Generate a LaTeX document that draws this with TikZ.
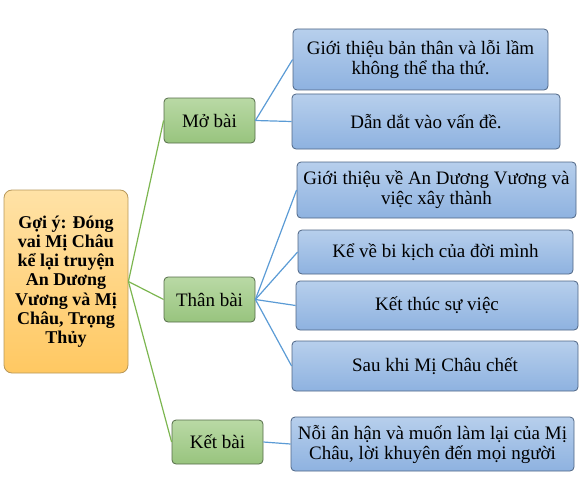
\documentclass[tikz,border=0pt]{standalone}
\usepackage{fontspec}
\setmainfont{Liberation Serif}
\definecolor{gtop}{HTML}{B9D9A5}
\definecolor{gbot}{HTML}{98C47E}
\definecolor{gline}{HTML}{546B48}
\definecolor{btop}{HTML}{B7CFEC}
\definecolor{bbot}{HTML}{8EB2E0}
\definecolor{bline}{HTML}{4E6584}
\definecolor{otop}{HTML}{FFE2A6}
\definecolor{obot}{HTML}{FFC862}
\definecolor{oline}{HTML}{B8985A}
\definecolor{greenconn}{HTML}{7CB650}
\definecolor{blueconn}{HTML}{5B9BD5}
\tikzset{
  rootbox/.style={draw=oline, line width=0.8pt, rounded corners=8pt, top color=otop, bottom color=obot, align=center, inner sep=1pt, font=\fontsize{18}{19.2}\selectfont\bfseries},
  secbox/.style={draw=gline, line width=0.8pt, rounded corners=4pt, top color=gtop, bottom color=gbot, align=center, inner sep=0pt, font=\fontsize{19}{20}\selectfont},
  leafbox/.style={draw=bline, line width=0.8pt, rounded corners=4pt, top color=btop, bottom color=bbot, align=center, inner sep=0pt, font=\fontsize{19}{20}\selectfont},
  gconn/.style={draw=greenconn, line width=1.2pt},
  bconn/.style={draw=blueconn, line width=1.2pt}
}
\begin{document}
\begin{tikzpicture}[x=1pt,y=-1pt]
\useasboundingbox (0,0) rectangle (585,484);
\node[rootbox, minimum width=124pt, minimum height=183pt] (root) at (66,281.5) {Gợi ý: Đóng\\vai Mị Châu\\kể lại truyện\\An Dương\\Vương và Mị\\Châu, Trọng\\Thủy};
\node[secbox, minimum width=91pt, minimum height=45pt] (mo) at (209.5,120.5) {Mở bài};
\node[secbox, minimum width=91pt, minimum height=45pt] (than) at (209.5,299.5) {Thân bài};
\node[secbox, minimum width=91pt, minimum height=44pt] (ket) at (217.5,442) {Kết bài};
\node[leafbox, minimum width=255pt, minimum height=61pt] (l1) at (420.5,59.5) {Giới thiệu bản thân và lỗi lầm\\không thể tha thứ.};
\node[leafbox, minimum width=268pt, minimum height=55pt] (l2) at (426,121.5) {Dẫn dắt vào vấn đề.};
\node[leafbox, minimum width=279pt, minimum height=56pt] (l3) at (436.5,190) {Giới thiệu về An Dương Vương và\\việc xây thành};
\node[leafbox, minimum width=275pt, minimum height=44pt] (l4) at (435.5,252) {Kể về bi kịch của đời mình};
\node[leafbox, minimum width=282pt, minimum height=49pt] (l5) at (437,305.5) {Kết thúc sự việc};
\node[leafbox, minimum width=286pt, minimum height=50pt] (l6) at (435,366) {Sau khi Mị Châu chết};
\node[leafbox, minimum width=283pt, minimum height=54pt] (l7) at (432.5,444) {Nỗi ân hận và muốn làm lại của Mị\\Châu, lời khuyên đến mọi người};
\draw[gconn] (root.east) -- (mo.west);
\draw[gconn] (root.east) -- (than.west);
\draw[gconn] (root.east) -- (ket.west);
\draw[bconn] (mo.east) -- (l1.west);
\draw[bconn] (mo.east) -- (l2.west);
\draw[bconn] (than.east) -- (l3.west);
\draw[bconn] (than.east) -- (l4.west);
\draw[bconn] (than.east) -- (l5.west);
\draw[bconn] (than.east) -- (l6.west);
\draw[bconn] (ket.east) -- (l7.west);
\end{tikzpicture}
\end{document}
